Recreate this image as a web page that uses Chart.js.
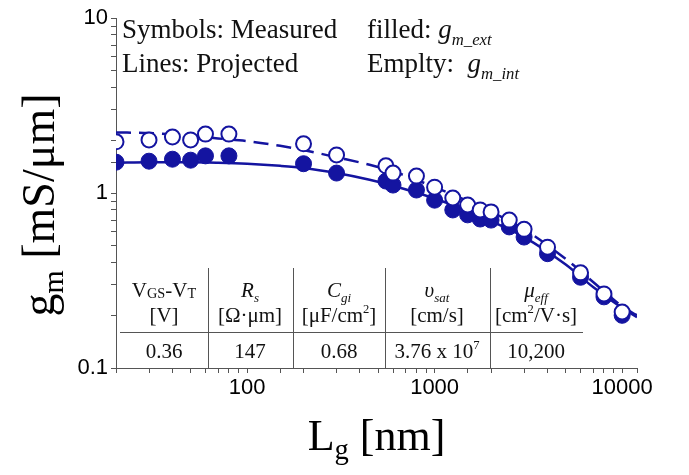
<!DOCTYPE html>
<html>
<head>
<meta charset="utf-8">
<script src="https://cdn.jsdelivr.net/npm/chart.js@4.4.1/dist/chart.umd.min.js"></script>
<style>
  html, body { margin: 0; padding: 0; background: #fff; }
</style>
</head>
<body>
<canvas id="chart" width="689" height="475"></canvas>
<script>
// measured devices, gate length in nm
var gateLengths = [20, 30, 40, 50, 60, 80, 200, 300, 550, 600, 800, 1000, 1250, 1500, 1750, 2000, 2500, 3000, 4000, 6000, 8000, 10000];
var gmExtMeasured = [1.50, 1.52, 1.56, 1.54, 1.63, 1.63, 1.47, 1.30, 1.17, 1.11, 1.04, 0.91, 0.80, 0.75, 0.71, 0.70, 0.64, 0.56, 0.45, 0.33, 0.255, 0.20];
var gmIntMeasured = [1.96, 2.01, 2.09, 2.01, 2.17, 2.17, 1.91, 1.65, 1.43, 1.30, 1.25, 1.08, 0.936, 0.854, 0.80, 0.78, 0.70, 0.62, 0.49, 0.35, 0.265, 0.209];

// projected curves
var modelLengths = [20, 30, 50, 70, 100, 150, 200, 300, 450, 600, 1000, 1500, 2000, 3000, 5000, 7000, 10000, 12000];
var gmExtProjected = [1.49, 1.50, 1.50, 1.49, 1.47, 1.43, 1.39, 1.30, 1.19, 1.10, 0.93, 0.79, 0.69, 0.56, 0.39, 0.29, 0.22, 0.195];
var gmIntProjected = [2.22, 2.20, 2.13, 2.05, 1.98, 1.86, 1.76, 1.60, 1.45, 1.33, 1.08, 0.90, 0.78, 0.62, 0.42, 0.31, 0.225, 0.20];

var xTicks = [100, 1000, 10000];
var yTicks = [0.1, 1, 10];

// parameter table: header, units, values
var tableHeads = [
  [['V'], ['GS', 'sc'], ['-V'], ['T', 'sc']],
  [['R', 'i'], ['s', 'isub']],
  [['C', 'i'], ['gi', 'isub']],
  [['\u03c5', 'i'], ['sat', 'isub']],
  [['\u03bc', 'i'], ['eff', 'isub']]
];
var tableUnits = [
  [['[V]']],
  [['[\u03a9\u00b7\u03bcm]']],
  [['[\u03bcF/cm'], ['2', 'sup'], [']']],
  [['[cm/s]']],
  [['[cm'], ['2', 'sup'], ['/V\u00b7s]']]
];
var tableValues = [
  [['0.36']],
  [['147']],
  [['0.68']],
  [['3.76 x 10'], ['7', 'sup']],
  [['10,200']]
];

var notes = [
  [['Symbols: Measured']],
  [['Lines: Projected']],
  [['filled: '], ['g', 'i'], ['m_ext', 'isub']],
  [['Emplty:  '], ['g', 'i'], ['m_int', 'isub']]
];
var xTitle = [['L'], ['g', 'sub'], [' [nm]']];
var yTitle = [['g'], ['m', 'sub'], [' [mS/\u03bcm]']];

var blue = '#1414a0';
var serif = "'Liberation Serif', 'Times New Roman', serif";
var sans = "'Liberation Sans', Arial, sans-serif";

function toPoints(xs, ys) {
  return xs.map(function (x, i) { return { x: x, y: ys[i] }; });
}

function toSegs(parts, size) {
  return parts.map(function (p) {
    var kind = p[1] || 'n';
    var seg = { t: p[0], s: size, i: false, dy: 0 };
    if (kind == 'i') seg.i = true;
    if (kind == 'sc') { seg.s = size * 0.68; seg.dy = size * 0.06; }
    if (kind == 'sub') { seg.s = size * 0.65; seg.dy = size * 0.2; }
    if (kind == 'isub') { seg.s = size * 0.62; seg.i = true; seg.dy = size * 0.25; }
    if (kind == 'sup') { seg.s = size * 0.6; seg.dy = -size * 0.42; }
    return seg;
  });
}

function setFont(ctx, seg) {
  ctx.font = (seg.i ? 'italic ' : '') + seg.s + 'px ' + serif;
}

function drawRich(ctx, segs, x, y, center) {
  if (center) {
    var w = 0;
    segs.forEach(function (seg) { setFont(ctx, seg); w += ctx.measureText(seg.t).width; });
    x -= w / 2;
  }
  ctx.textAlign = 'left';
  ctx.textBaseline = 'alphabetic';
  segs.forEach(function (seg) {
    setFont(ctx, seg);
    ctx.fillText(seg.t, x, y + seg.dy);
    x += ctx.measureText(seg.t).width;
  });
}

function isDecade(v) {
  var l = Math.log10(v);
  return Math.abs(l - Math.round(l)) < 1e-6;
}

var extras = {
  id: 'extras',
  beforeDatasetsDraw: function (chart) {
    var ctx = chart.ctx;
    var area = chart.chartArea;
    ctx.save();
    ctx.fillStyle = '#111';

    // notes in the top of the plot
    drawRich(ctx, toSegs(notes[0], 27), 122, 38);
    drawRich(ctx, toSegs(notes[1], 27), 122, 72);
    drawRich(ctx, toSegs(notes[2], 27), 367, 38);
    drawRich(ctx, toSegs(notes[3], 27), 367, 72);

    // table
    ctx.strokeStyle = '#555';
    ctx.lineWidth = 1;
    ctx.beginPath();
    ctx.moveTo(120, 332.5);
    ctx.lineTo(583, 332.5);
    [208, 293, 385, 490].forEach(function (x) {
      ctx.moveTo(x + 0.5, 268);
      ctx.lineTo(x + 0.5, area.bottom);
    });
    ctx.stroke();

    var cols = [164, 250, 339, 437, 536];
    cols.forEach(function (cx, i) {
      drawRich(ctx, toSegs(tableHeads[i], 21), cx, 297, true);
      drawRich(ctx, toSegs(tableUnits[i], 21), cx, 322, true);
      drawRich(ctx, toSegs(tableValues[i], 21), cx, 358, true);
    });
    ctx.restore();
  },
  afterDraw: function (chart) {
    var ctx = chart.ctx;
    var area = chart.chartArea;
    ctx.save();
    ctx.fillStyle = '#000';
    drawRich(ctx, toSegs(xTitle, 44), (area.left + area.right) / 2, 450, true);
    ctx.translate(54, 205);
    ctx.rotate(-Math.PI / 2);
    drawRich(ctx, toSegs(yTitle, 46), 0, 0, true);
    ctx.restore();
  }
};

new Chart(document.getElementById('chart'), {
  type: 'scatter',
  data: {
    datasets: [
      {
        label: 'gm_int measured',
        data: toPoints(gateLengths, gmIntMeasured),
        showLine: false,
        pointRadius: 7.5,
        pointBorderWidth: 2,
        pointBackgroundColor: '#ffffff',
        pointBorderColor: blue,
        clip: 0,
        order: 0
      },
      {
        label: 'gm_ext measured',
        data: toPoints(gateLengths, gmExtMeasured),
        showLine: false,
        pointRadius: 8,
        pointBorderWidth: 1,
        pointBackgroundColor: blue,
        pointBorderColor: blue,
        clip: 0,
        order: 1
      },
      {
        label: 'gm_int projected',
        data: toPoints(modelLengths, gmIntProjected),
        showLine: true,
        pointRadius: 0,
        borderColor: blue,
        borderWidth: 2.5,
        borderDash: [15, 8],
        cubicInterpolationMode: 'monotone',
        clip: 0,
        order: 2
      },
      {
        label: 'gm_ext projected',
        data: toPoints(modelLengths, gmExtProjected),
        showLine: true,
        pointRadius: 0,
        borderColor: blue,
        borderWidth: 2.5,
        cubicInterpolationMode: 'monotone',
        clip: 0,
        order: 3
      }
    ]
  },
  options: {
    responsive: false,
    animation: false,
    events: [],
    layout: { padding: { top: 18, right: 52, left: 0, bottom: 0 } },
    plugins: {
      legend: { display: false },
      tooltip: { enabled: false }
    },
    scales: {
      x: {
        type: 'logarithmic',
        position: 'bottom',
        min: 20,
        max: 12000,
        border: { color: '#555', width: 1 },
        grid: { drawOnChartArea: false, drawTicks: true, tickLength: 5, color: '#555' },
        ticks: {
          autoSkip: false,
          maxRotation: 0,
          padding: 2,
          color: '#000',
          font: { family: sans, size: 22 },
          callback: function (v) { return xTicks.indexOf(v) >= 0 ? String(v) : ''; }
        },
        afterFit: function (scale) { scale.height = 107; }
      },
      y: {
        type: 'logarithmic',
        min: 0.1,
        max: 10,
        border: { color: '#555', width: 1 },
        grid: { drawOnChartArea: false, drawTicks: true, tickLength: 5, color: '#555' },
        ticks: {
          autoSkip: false,
          padding: 3,
          color: '#000',
          font: { family: sans, size: 22 },
          callback: function (v) {
            if (!isDecade(v)) return '';
            var hit = yTicks.filter(function (t) { return Math.abs(t - v) < 1e-9; });
            return hit.length ? String(hit[0]) : '';
          }
        },
        afterFit: function (scale) { scale.width = 116; }
      }
    }
  },
  plugins: [extras]
});
</script>
</body>
</html>
